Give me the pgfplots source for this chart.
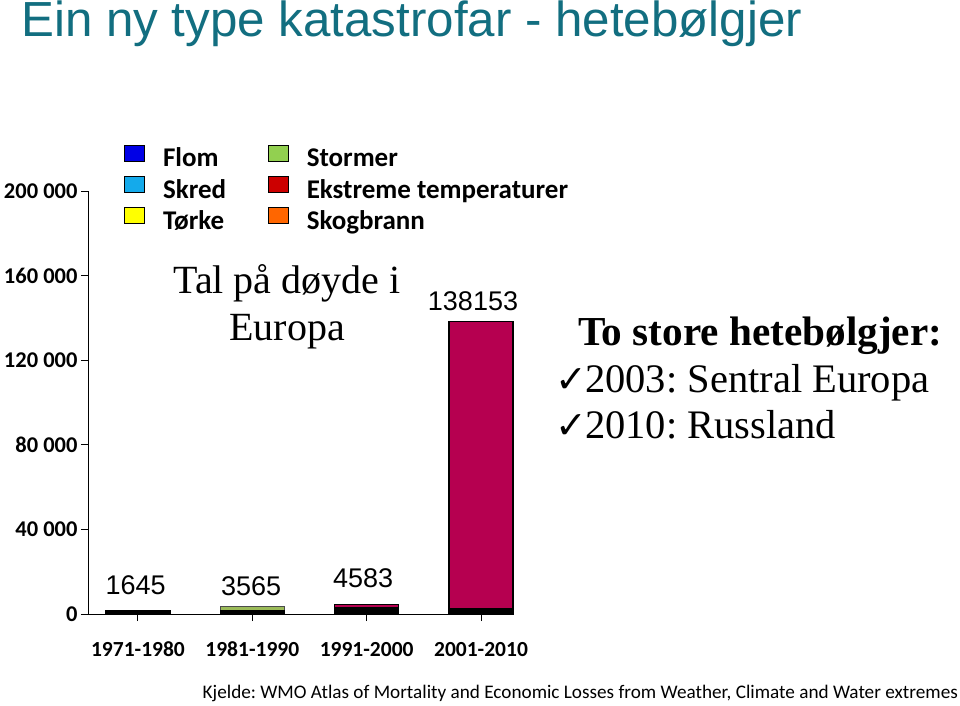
\documentclass[border=0pt]{standalone}
\usepackage{pgfplots}
\pgfplotsset{compat=1.18}
\usepackage{fontspec}
\newfontfamily\carlito{Carlito}
\newfontfamily\arialf{Liberation Sans}
\newfontfamily\serif{Liberation Serif}
\newfontfamily\dejavu{DejaVu Sans}
\definecolor{teal1}{RGB}{18,110,128}
\definecolor{crim}{RGB}{182,0,80}
\definecolor{stormg}{RGB}{155,187,89}
\definecolor{lflom}{RGB}{0,0,230}
\definecolor{lskred}{RGB}{20,170,235}
\definecolor{ltorke}{RGB}{255,255,0}
\definecolor{lstorm}{RGB}{146,208,80}
\definecolor{lekst}{RGB}{204,0,0}
\definecolor{lskog}{RGB}{255,102,0}
\frenchspacing
\begin{document}
\begin{tikzpicture}
\path[use as bounding box] (0,0) rectangle (960pt,705pt);
\node[anchor=base west, text=teal1, inner sep=0pt] at (21pt,668pt) {\arialf\fontsize{49.3}{49.3}\selectfont Ein ny type katastrofar - hetebølgjer};
\begin{axis}[
  at={(88pt,91pt)}, anchor=south west,
  scale only axis, width=424pt, height=423pt,
  xmin=-0.437, xmax=3.271, ymin=0, ymax=200000,
  clip=false,
  axis x line*=bottom, axis y line*=left,
  axis line style={line width=1pt},
  tick align=outside, major tick length=7pt,
  tick style={line width=1pt, black},
  xtick={0,1,2,3},
  xticklabels={1971-1980,1981-1990,1991-2000,2001-2010},
  ytick={0,40000,80000,120000,160000,200000},
  yticklabels={0,40 000,80 000,120 000,160 000,200 000},
  scaled y ticks=false,
  yticklabel style={font=\carlito\bfseries\fontsize{22.5}{22.5}\selectfont, anchor=east},
  xticklabel style={font=\carlito\bfseries\fontsize{21.5}{21.5}\selectfont, anchor=base, text height=14pt, text depth=4pt, yshift=-35pt},
  ybar stacked, bar width=64pt,
  legend cell align=left,
  legend columns=2,
  legend style={draw=none, fill=none, at={(0.0785,1.115)}, anchor=north west,
    font=\carlito\bfseries\fontsize{27}{27}\selectfont,
    nodes={text height=17pt, text depth=5pt, inner sep=0pt},
    row sep=4pt,
    /tikz/every odd column/.append style={column sep=18pt},
    /tikz/every even column/.append style={column sep=42pt}},
  legend image code/.code={\draw[#1, draw=black, line width=0.6pt] (0pt,0pt) rectangle (20pt,16pt);},
]
\addplot[fill=black, draw=black, line width=1.2pt, forget plot] coordinates {(0,1645) (1,1700) (2,2800) (3,2500)};
\addplot[fill=stormg, draw=black!70, line width=1.2pt, forget plot] coordinates {(0,0) (1,1865) (2,0) (3,0)};
\addplot[fill=crim, draw=black, line width=1.2pt, forget plot] coordinates {(0,0) (1,0) (2,1783) (3,135653)};
\addlegendimage{fill=lflom}\addlegendentry{Flom}
\addlegendimage{fill=lstorm}\addlegendentry{Stormer}
\addlegendimage{fill=lskred}\addlegendentry{Skred}
\addlegendimage{fill=lekst}\addlegendentry{Ekstreme temperaturer}
\addlegendimage{fill=ltorke}\addlegendentry{Tørke}
\addlegendimage{fill=lskog}\addlegendentry{Skogbrann}
\node[anchor=base, font=\arialf\fontsize{27}{27}\selectfont] at (axis cs:-0.02,9300) {1645};
\node[anchor=base, font=\arialf\fontsize{27}{27}\selectfont] at (axis cs:0.99,8600) {3565};
\node[anchor=base, font=\arialf\fontsize{27}{27}\selectfont] at (axis cs:1.97,12600) {4583};
\node[anchor=base, font=\arialf\fontsize{27}{27}\selectfont] at (axis cs:2.93,143500) {138153};
\end{axis}
\node[anchor=base, inner sep=0pt] at (287pt,411pt) {\serif\fontsize{40}{40}\selectfont Tal på døyde i};
\node[anchor=base, inner sep=0pt] at (287pt,365pt) {\serif\fontsize{40}{40}\selectfont Europa};
\node[anchor=base west, inner sep=0pt] at (578pt,360pt) {\serif\bfseries\fontsize{41.2}{41.2}\selectfont To store hetebølgjer:};
\node[anchor=base west, inner sep=0pt] at (555pt,313pt) {\dejavu\bfseries\fontsize{38}{38}\selectfont ✓};
\node[anchor=base west, inner sep=0pt] at (585pt,313pt) {\serif\fontsize{40.5}{40.5}\selectfont 2003: Sentral Europa};
\node[anchor=base west, inner sep=0pt] at (555pt,267pt) {\dejavu\bfseries\fontsize{38}{38}\selectfont ✓};
\node[anchor=base west, inner sep=0pt] at (585pt,267pt) {\serif\fontsize{40.5}{40.5}\selectfont 2010: Russland};
\node[anchor=base east, inner sep=0pt] at (958pt,7pt) {\carlito\fontsize{19.2}{19.2}\selectfont Kjelde: WMO Atlas of Mortality and Economic Losses from Weather, Climate and Water extremes};
\end{tikzpicture}
\end{document}
